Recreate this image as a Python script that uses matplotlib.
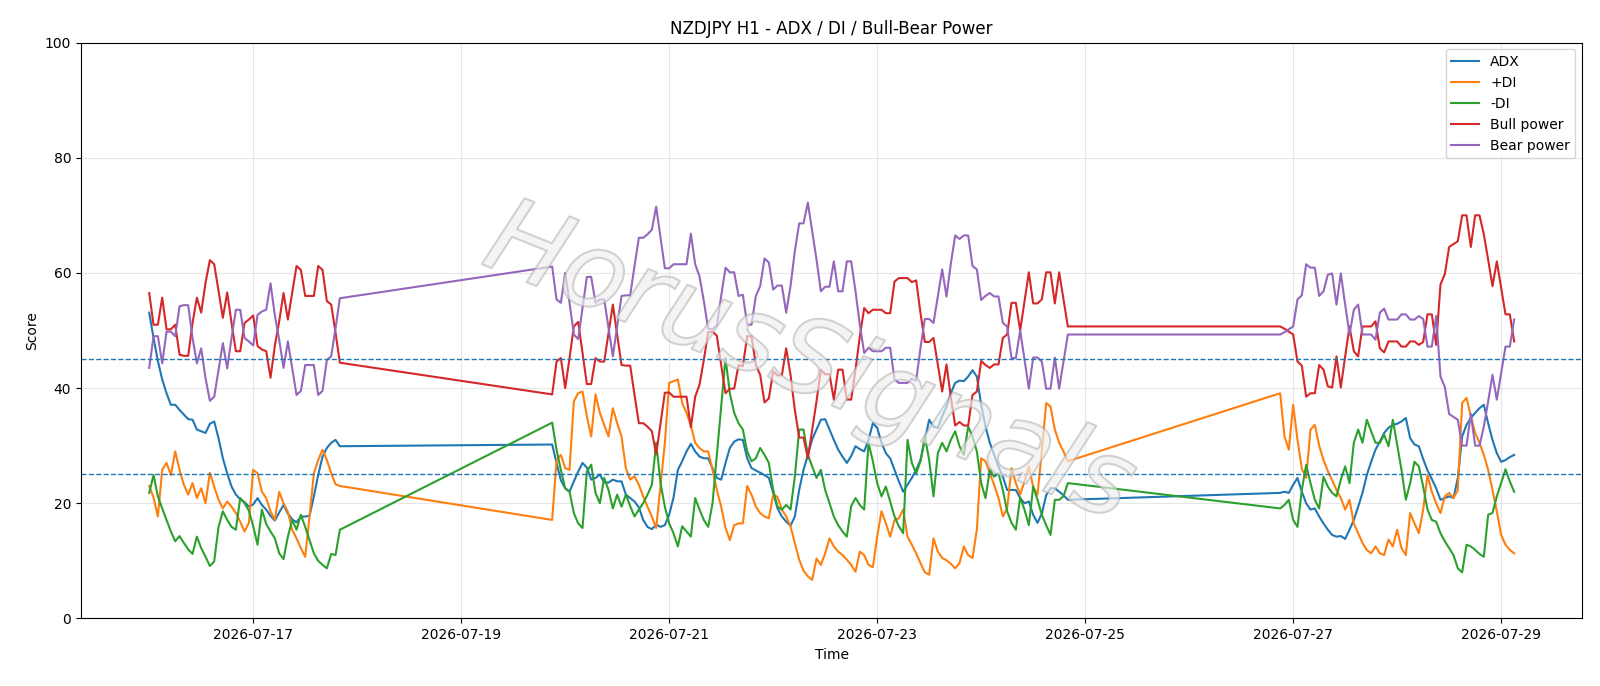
import pandas as pd
import matplotlib
matplotlib.use('Agg')
import matplotlib.pyplot as plt
import matplotlib.patheffects as pe

# hourly bars, three trading blocks (weekend gaps are simply bridged by the lines)
t1 = pd.date_range('2026-07-16 00:00', '2026-07-17 20:00', freq='h')
t2 = pd.date_range('2026-07-19 21:00', '2026-07-24 20:00', freq='h')
t3 = pd.date_range('2026-07-26 21:00', '2026-07-29 03:00', freq='h')
times = t1.append(t2).append(t3)

adx = [
    # block 1
    53.1, 48.7, 44.7, 41.5, 39.1, 37.1, 37.1, 36.2, 35.4, 34.6,
    34.5, 32.8, 32.5, 32.2, 33.8, 34.2, 31.3, 27.8, 25.2, 22.9,
    21.5, 20.7, 20.2, 19.4, 19.8, 20.9, 19.7, 18.9, 17.8, 17.0,
    18.4, 19.7, 18.2, 17.2, 16.7, 17.7, 17.7, 17.8, 21.2, 24.9,
    28.1, 29.6, 30.5, 31.0, 29.9,
    # block 2
    30.2, 27.0, 24.0, 22.6, 22.0, 23.8, 25.5, 27.0, 26.2, 24.1,
    24.4, 25.0, 23.6, 23.6, 24.1, 23.8, 23.8, 21.5, 20.9, 20.3,
    19.3, 17.1, 15.9, 15.5, 16.3, 15.9, 16.2, 18.0, 21.0, 25.8,
    27.3, 29.0, 30.3, 29.0, 28.1, 27.8, 27.8, 26.1, 24.4, 24.1,
    27.0, 29.6, 30.7, 31.1, 31.0, 27.8, 26.1, 25.7, 25.3, 24.9,
    24.4, 21.8, 19.1, 17.7, 16.8, 16.1, 17.7, 22.3, 25.8, 28.4,
    31.1, 32.8, 34.5, 34.6, 32.8, 31.0, 29.3, 28.1, 27.0, 28.2,
    29.9, 29.4, 29.0, 31.0, 33.9, 33.1, 30.5, 28.7, 27.8, 25.8,
    23.8, 22.0, 23.2, 24.4, 25.8, 27.5, 31.0, 34.5, 33.3, 33.1,
    35.1, 36.8, 39.1, 40.9, 41.3, 41.2, 42.0, 43.1, 42.0, 37.1,
    33.3, 30.5, 28.4, 26.4, 24.6, 22.3, 22.3, 22.3, 20.9, 20.0,
    20.3, 18.0, 16.6, 18.2, 21.4, 22.6, 22.6, 22.0, 21.4, 20.6,
    # block 3
    21.8, 22.0, 21.8, 23.2, 24.4, 22.0, 20.0, 18.9, 19.1, 17.7,
    16.5, 15.4, 14.5, 14.2, 14.3, 13.8, 15.4, 17.1, 19.4, 21.8,
    24.9, 27.2, 29.3, 30.7, 32.2, 33.1, 33.6, 33.8, 34.2, 34.8,
    31.3, 30.2, 29.9, 27.7, 25.7, 24.2, 22.6, 20.6, 20.9, 21.2,
    20.9, 24.4, 31.6, 33.6, 34.8, 35.7, 36.5, 37.1, 33.9, 31.0,
    28.7, 27.2, 27.5, 28.0, 28.4,
]

plus_di = [
    23.0, 21.0, 17.7, 25.8, 27.0, 24.9, 29.0, 25.8, 23.2, 21.5,
    23.5, 20.9, 22.6, 20.0, 25.3, 22.9, 20.6, 19.1, 20.3, 19.4,
    18.3, 16.8, 15.1, 16.6, 25.8, 25.2, 22.0, 20.9, 18.6, 17.1,
    22.0, 20.0, 18.5, 15.4, 13.9, 12.2, 10.7, 17.7, 25.2, 27.5,
    29.3, 27.5, 25.2, 23.3, 23.0,
    17.1, 27.5, 28.4, 26.1, 25.8, 37.7, 39.1, 39.4, 35.1, 31.6,
    38.9, 35.7, 33.6, 31.6, 36.5, 33.9, 31.6, 26.1, 24.1, 24.7,
    23.2, 21.2, 19.4, 17.7, 15.7, 23.0, 30.5, 40.9, 41.2, 41.5,
    37.4, 35.7, 33.5, 30.5, 29.6, 29.0, 29.0, 25.8, 22.3, 19.4,
    15.7, 13.6, 16.2, 16.5, 16.5, 23.0, 21.5, 19.4, 18.3, 17.7,
    17.4, 21.5, 21.1, 18.9, 17.7, 16.0, 13.1, 10.2, 8.3, 7.3,
    6.7, 10.4, 9.3, 11.3, 13.9, 12.5, 11.6, 11.0, 10.2, 9.3,
    8.1, 11.6, 11.0, 9.3, 8.9, 14.2, 18.6, 16.5, 14.2, 17.1,
    17.4, 18.9, 14.2, 12.8, 11.3, 9.6, 8.0, 7.6, 13.9, 11.6,
    10.5, 10.1, 9.5, 8.7, 9.6, 12.5, 11.0, 10.5, 15.4, 27.8,
    27.3, 25.2, 23.2, 20.9, 17.7, 19.1, 26.1, 23.5, 21.5, 23.8,
    26.4, 22.9, 21.5, 29.0, 37.4, 36.8, 32.8, 30.5, 29.0, 27.3,
    39.1, 31.6, 29.3, 37.1, 31.0, 26.0, 24.4, 32.8, 33.6, 30.0,
    27.5, 25.6, 24.0, 22.3, 20.9, 18.9, 20.6, 16.5, 14.8, 13.1,
    11.9, 11.3, 12.5, 11.3, 11.0, 13.7, 12.5, 15.4, 12.2, 11.0,
    18.3, 16.5, 14.8, 18.9, 24.9, 22.0, 20.0, 18.3, 21.2, 21.8,
    20.9, 22.3, 37.4, 38.3, 35.1, 32.2, 30.5, 28.4, 25.8, 22.3,
    18.6, 14.5, 12.8, 11.9, 11.3,
]

minus_di = [
    21.8, 24.9, 21.2, 19.1, 17.1, 15.1, 13.4, 14.3, 13.1, 12.0,
    11.2, 14.2, 12.2, 10.7, 9.1, 9.9, 15.9, 18.6, 17.1, 15.9,
    15.4, 20.9, 20.0, 18.7, 16.0, 12.8, 18.9, 16.4, 15.1, 13.9,
    11.3, 10.3, 14.2, 17.1, 15.4, 18.0, 15.9, 13.6, 11.3, 10.0,
    9.3, 8.7, 11.2, 11.0, 15.4,
    34.0, 29.3, 25.8, 22.6, 22.0, 18.3, 16.5, 15.7, 25.5, 26.7,
    21.8, 20.0, 24.4, 22.3, 19.1, 21.5, 19.4, 21.5, 19.5, 17.7,
    18.9, 20.0, 21.5, 23.2, 30.5, 23.5, 19.4, 16.5, 14.8, 12.5,
    16.0, 15.1, 14.2, 20.9, 18.9, 17.1, 15.9, 20.0, 28.4, 36.8,
    45.2, 39.1, 35.7, 33.9, 32.8, 29.0, 27.3, 27.8, 29.6, 28.4,
    27.0, 22.3, 19.4, 18.9, 19.7, 18.9, 24.6, 32.8, 32.8, 28.4,
    26.4, 24.4, 25.8, 22.3, 20.0, 17.7, 16.2, 15.1, 14.2, 19.5,
    20.9, 19.7, 18.9, 30.5, 27.3, 23.5, 21.2, 22.9, 20.3, 17.7,
    16.0, 14.8, 31.0, 27.0, 25.2, 27.3, 31.6, 27.5, 21.2, 28.7,
    30.5, 29.0, 31.0, 32.5, 29.9, 28.4, 33.3, 31.6, 29.0, 23.5,
    20.9, 25.8, 24.6, 25.2, 22.3, 18.6, 16.6, 15.4, 21.0, 18.9,
    16.2, 22.9, 20.6, 18.0, 16.2, 14.5, 20.6, 20.6, 21.2, 23.5,
    19.1, 19.7, 20.6, 17.1, 15.9, 22.3, 26.7, 23.5, 20.6, 19.1,
    24.6, 22.9, 21.8, 21.2, 24.1, 26.4, 23.5, 30.5, 32.8, 30.5,
    34.5, 32.5, 30.5, 30.5, 31.9, 29.9, 34.5, 30.2, 25.8, 20.6,
    23.5, 27.2, 26.4, 22.9, 18.9, 17.1, 16.8, 14.8, 13.4, 12.2,
    11.0, 8.7, 8.0, 12.8, 12.5, 11.9, 11.2, 10.7, 18.0, 18.3,
    21.2, 23.5, 25.9, 23.8, 22.0,
]

bull_power = [
    56.5, 51.0, 51.0, 55.7, 50.2, 50.2, 51.0, 45.8, 45.6, 45.6,
    51.3, 55.7, 53.1, 58.3, 62.2, 61.5, 56.8, 52.2, 56.6, 51.3,
    46.4, 46.4, 51.3, 51.9, 52.6, 47.3, 46.7, 46.4, 41.8, 47.4,
    51.6, 56.5, 51.9, 56.5, 61.2, 60.5, 56.0, 56.0, 56.0, 61.2,
    60.5, 55.1, 54.5, 49.6, 44.4,
    38.9, 44.6, 45.2, 40.0, 45.2, 50.7, 51.5, 46.1, 40.7, 40.7,
    45.2, 44.6, 44.6, 49.6, 54.5, 49.3, 44.0, 43.9, 43.9, 38.8,
    33.9, 33.9, 33.3, 32.5, 28.5, 33.9, 39.2, 39.2, 38.5, 38.5,
    38.5, 38.5, 33.2, 38.5, 40.6, 44.9, 49.7, 49.8, 49.1, 44.0,
    39.1, 39.9, 39.9, 44.0, 43.8, 49.0, 49.0, 44.0, 42.3, 37.5,
    38.2, 42.9, 42.2, 42.2, 46.9, 42.3, 36.2, 31.4, 31.4, 27.8,
    32.7, 37.7, 43.2, 42.4, 42.4, 38.0, 43.2, 43.2, 38.0, 38.0,
    43.2, 49.0, 53.9, 53.0, 53.6, 53.6, 53.6, 53.0, 53.0, 58.5,
    59.1, 59.1, 59.1, 58.4, 58.7, 53.0, 48.0, 48.0, 48.7, 44.1,
    39.4, 44.1, 38.4, 33.5, 34.1, 33.5, 33.5, 38.8, 39.4, 44.7,
    44.0, 43.5, 44.1, 44.1, 48.7, 49.3, 54.8, 54.8, 50.0, 55.1,
    60.1, 54.7, 54.7, 55.4, 60.1, 60.1, 54.7, 60.1, 55.4, 50.7,
    50.7, 50.3, 49.8, 49.3, 44.6, 43.9, 38.5, 39.1, 39.1, 44.0,
    43.2, 40.3, 40.1, 45.5, 40.1, 45.5, 50.7, 46.4, 45.5, 50.7,
    50.7, 50.7, 51.6, 46.9, 46.2, 48.1, 48.1, 48.1, 47.2, 47.2,
    48.1, 48.1, 47.5, 48.0, 52.8, 52.8, 47.5, 58.0, 59.8, 64.5,
    65.0, 65.5, 70.0, 70.0, 64.5, 70.0, 70.0, 66.7, 62.3, 57.7,
    62.0, 57.4, 52.8, 52.8, 48.1,
]

bear_power = [
    43.5, 49.0, 49.0, 44.3, 49.8, 49.8, 49.0, 54.2, 54.4, 54.4,
    48.7, 44.3, 46.9, 41.7, 37.8, 38.5, 43.2, 47.8, 43.4, 48.7,
    53.6, 53.6, 48.7, 48.1, 47.4, 52.7, 53.3, 53.6, 58.2, 52.6,
    48.4, 43.5, 48.1, 43.5, 38.8, 39.5, 44.0, 44.0, 44.0, 38.8,
    39.5, 44.9, 45.5, 50.4, 55.6,
    61.1, 55.4, 54.8, 60.0, 54.8, 49.3, 48.5, 53.9, 59.3, 59.3,
    54.8, 55.4, 55.4, 50.4, 45.5, 50.7, 56.0, 56.1, 56.1, 61.2,
    66.1, 66.1, 66.7, 67.5, 71.5, 66.1, 60.8, 60.8, 61.5, 61.5,
    61.5, 61.5, 66.8, 61.5, 59.4, 55.1, 50.3, 50.2, 50.9, 56.0,
    60.9, 60.1, 60.1, 56.0, 56.2, 51.0, 51.0, 56.0, 57.7, 62.5,
    61.8, 57.1, 57.8, 57.8, 53.1, 57.7, 63.8, 68.6, 68.6, 72.2,
    67.3, 62.3, 56.8, 57.6, 57.6, 62.0, 56.8, 56.8, 62.0, 62.0,
    56.8, 51.0, 46.1, 47.0, 46.4, 46.4, 46.4, 47.0, 47.0, 41.5,
    40.9, 40.9, 40.9, 41.6, 41.3, 47.0, 52.0, 52.0, 51.3, 55.9,
    60.6, 55.9, 61.6, 66.5, 65.9, 66.5, 66.5, 61.2, 60.6, 55.3,
    56.0, 56.5, 55.9, 55.9, 51.3, 50.7, 45.2, 45.2, 50.0, 44.9,
    39.9, 45.3, 45.3, 44.6, 39.9, 39.9, 45.3, 39.9, 44.6, 49.3,
    49.3, 49.7, 50.2, 50.7, 55.4, 56.1, 61.5, 60.9, 60.9, 56.0,
    56.8, 59.7, 59.9, 54.5, 59.9, 54.5, 49.3, 53.6, 54.5, 49.3,
    49.3, 49.3, 48.4, 53.1, 53.8, 51.9, 51.9, 51.9, 52.8, 52.8,
    51.9, 51.9, 52.5, 52.0, 47.2, 47.2, 52.5, 42.0, 40.2, 35.5,
    35.0, 34.5, 30.0, 30.0, 35.5, 30.0, 30.0, 33.3, 37.7, 42.3,
    38.0, 42.6, 47.2, 47.2, 51.9,
]

fig = plt.figure(figsize=(16, 6.86), dpi=100)
ax = fig.add_subplot(111)

ax.plot(times, adx, label='ADX')
ax.plot(times, plus_di, label='+DI')
ax.plot(times, minus_di, label='-DI')
ax.plot(times, bull_power, label='Bull power')
ax.plot(times, bear_power, label='Bear power')

ax.axhline(45, linestyle='--', linewidth=1)
ax.axhline(25, linestyle='--', linewidth=1)

ax.set_ylim(0, 100)
ax.set_title('NZDJPY H1 - ADX / DI / Bull-Bear Power')
ax.set_xlabel('Time')
ax.set_ylabel('Score')
ax.grid(alpha=0.3)
ax.legend(loc='upper right')

# watermark
ax.text(0.485, 0.44, 'HorusSignals', transform=ax.transAxes,
        fontsize=76, fontstyle='italic', color='#f0f0f0', alpha=0.25,
        rotation=-22, ha='center', va='center', zorder=5,
        path_effects=[pe.Stroke(linewidth=1.5, foreground='#a8a8a8', alpha=0.55),
                      pe.Normal()])

plt.subplots_adjust(left=0.0506, right=0.989, top=0.938, bottom=0.0985)
plt.savefig('out.png')
